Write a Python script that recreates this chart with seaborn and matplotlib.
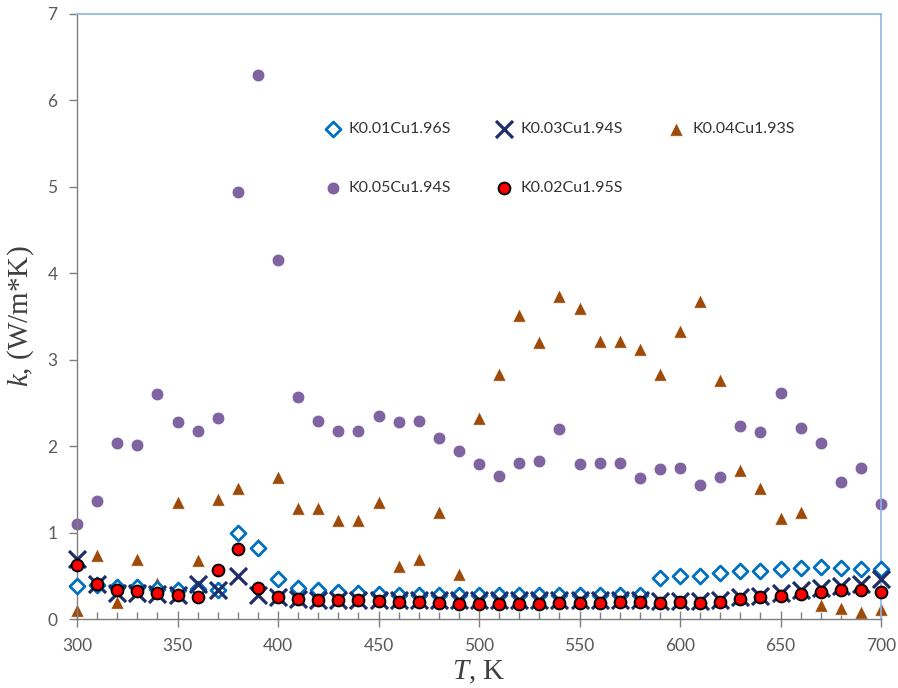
import numpy as np
import pandas as pd
import matplotlib
matplotlib.use("Agg")
import matplotlib.pyplot as plt
import seaborn as sns
from matplotlib.ticker import MultipleLocator

# Temperature grid, K
T = list(range(300, 701, 10))

k_K001 = [0.38, 0.39, 0.37, 0.37, 0.35, 0.34, 0.35, 0.33, 0.99, 0.82,
          0.46, 0.36, 0.33, 0.31, 0.30, 0.29, 0.28, 0.28, 0.28, 0.28,
          0.28, 0.28, 0.28, 0.28, 0.28, 0.28, 0.28, 0.28, 0.28, 0.48,
          0.50, 0.50, 0.53, 0.55, 0.56, 0.58, 0.59, 0.60, 0.59, 0.58,
          0.58]
k_K003 = [0.70, 0.41, 0.30, 0.30, 0.29, 0.28, 0.40, 0.34, 0.50, 0.28,
          0.25, 0.23, 0.22, 0.22, 0.22, 0.22, 0.22, 0.22, 0.22, 0.22,
          0.22, 0.22, 0.22, 0.22, 0.22, 0.22, 0.22, 0.22, 0.22, 0.21,
          0.21, 0.21, 0.22, 0.25, 0.27, 0.30, 0.33, 0.36, 0.38, 0.41,
          0.46]
k_K004 = [0.10, 0.74, 0.20, 0.70, 0.42, 1.35, 0.68, 1.39, 1.51, 0.87,
          1.64, 1.28, 1.28, 1.15, 1.15, 1.35, 0.61, 0.70, 1.24, 0.52,
          2.33, 2.83, 3.52, 3.21, 3.74, 3.60, 3.22, 3.22, 3.12, 2.83,
          3.33, 3.68, 2.76, 1.72, 1.52, 1.17, 1.24, 0.16, 0.13, 0.08,
          0.12]
k_K005 = [1.10, 1.37, 2.04, 2.01, 2.60, 2.28, 2.18, 2.33, 4.94, 6.30,
          4.15, 2.57, 2.29, 2.18, 2.18, 2.35, 2.28, 2.29, 2.10, 1.94,
          1.79, 1.65, 1.81, 1.83, 2.20, 1.79, 1.80, 1.80, 1.63, 1.74,
          1.75, 1.55, 1.64, 2.23, 2.16, 2.61, 2.21, 2.04, 1.59, 1.75,
          1.33]
k_K002 = [0.63, 0.40, 0.33, 0.32, 0.30, 0.28, 0.25, 0.57, 0.81, 0.36,
          0.25, 0.23, 0.22, 0.22, 0.22, 0.21, 0.20, 0.20, 0.19, 0.17,
          0.17, 0.17, 0.17, 0.17, 0.18, 0.18, 0.19, 0.20, 0.20, 0.19,
          0.20, 0.19, 0.20, 0.23, 0.25, 0.27, 0.29, 0.31, 0.33, 0.33,
          0.31]

sns.set_style("ticks")
plt.rcParams["font.family"] = ["Lato", "DejaVu Sans"]
plt.rcParams["mathtext.fontset"] = "custom"
plt.rcParams["mathtext.rm"] = "Liberation Serif"
plt.rcParams["mathtext.it"] = "Liberation Serif:italic"
plt.rcParams["xtick.bottom"] = True
plt.rcParams["ytick.left"] = True
plt.rcParams["xtick.minor.visible"] = True

fig = plt.figure(figsize=(8.98, 6.88), dpi=100)
ax = fig.add_axes([77 / 898, 69 / 688, 804 / 898, 605 / 688])

series = [
    ("K0.01Cu1.96S", k_K001, dict(marker="D", s=58, facecolor="white",
                                  edgecolor="#0070C0", linewidth=2.0)),
    ("K0.05Cu1.94S", k_K005, dict(marker="o", s=85, color="#8064A2",
                                  edgecolor="white", linewidth=0.6)),
    ("K0.03Cu1.94S", k_K003, dict(marker="x", s=150, color="#1F2D6B",
                                  linewidth=2.3)),
    ("K0.02Cu1.95S", k_K002, dict(marker="o", s=72, facecolor="#FF0000",
                                  edgecolor="black", linewidth=1.4)),
    ("K0.04Cu1.93S", k_K004, dict(marker="^", s=95, color="#9E4A09",
                                  edgecolor="white", linewidth=0.6)),
]
zorders = {"K0.01Cu1.96S": 3, "K0.05Cu1.94S": 2, "K0.03Cu1.94S": 4,
           "K0.02Cu1.95S": 5, "K0.04Cu1.93S": 2}

for name, vals, kw in series:
    df = pd.DataFrame({"T": T, "k": vals})
    sns.scatterplot(data=df, x="T", y="k", ax=ax, label=name,
                    zorder=zorders[name], clip_on=False, **kw)

ax.set_xlim(300, 700)
ax.set_ylim(0, 7)
ax.xaxis.set_major_locator(MultipleLocator(50))
ax.xaxis.set_minor_locator(MultipleLocator(10))
ax.yaxis.set_major_locator(MultipleLocator(1))
ax.yaxis.set_minor_locator(plt.NullLocator())

for side in ("left", "bottom"):
    ax.spines[side].set_color("#7f7f7f")
    ax.spines[side].set_linewidth(1.0)
for side in ("top", "right"):
    ax.spines[side].set_visible(True)
    ax.spines[side].set_color("#8FB4E3")
    ax.spines[side].set_linewidth(1.2)

ax.tick_params(axis="y", which="major", direction="out", length=6,
               width=1.0, color="#7f7f7f", left=True, right=False, pad=8)
ax.tick_params(axis="x", which="major", direction="inout", length=12,
               width=1.0, color="#7f7f7f", bottom=True, top=False, pad=8)
ax.tick_params(axis="x", which="minor", direction="in", length=5,
               width=1.0, color="#7f7f7f", bottom=True, top=False)
ax.tick_params(axis="both", which="major", labelsize=12.5,
               labelcolor="#595959")

label_font = dict(family="Liberation Serif", size=21, color="#404040")
ax.set_xlabel(r"$\mathit{T}$, K", fontdict=label_font, labelpad=3)
ax.set_ylabel(r"$\mathit{k}$, (W/m*K)", fontdict=label_font, labelpad=8)

handles, labels = ax.get_legend_handles_labels()
ax.legend(handles, labels, ncol=3, frameon=False, fontsize=11.5,
          loc="upper left", bbox_to_anchor=(0.30, 0.832),
          labelspacing=2.8, columnspacing=2.85, handletextpad=0.5,
          handlelength=1.0, borderaxespad=0, labelcolor="#333333")

fig.savefig("out.png", dpi=100)
